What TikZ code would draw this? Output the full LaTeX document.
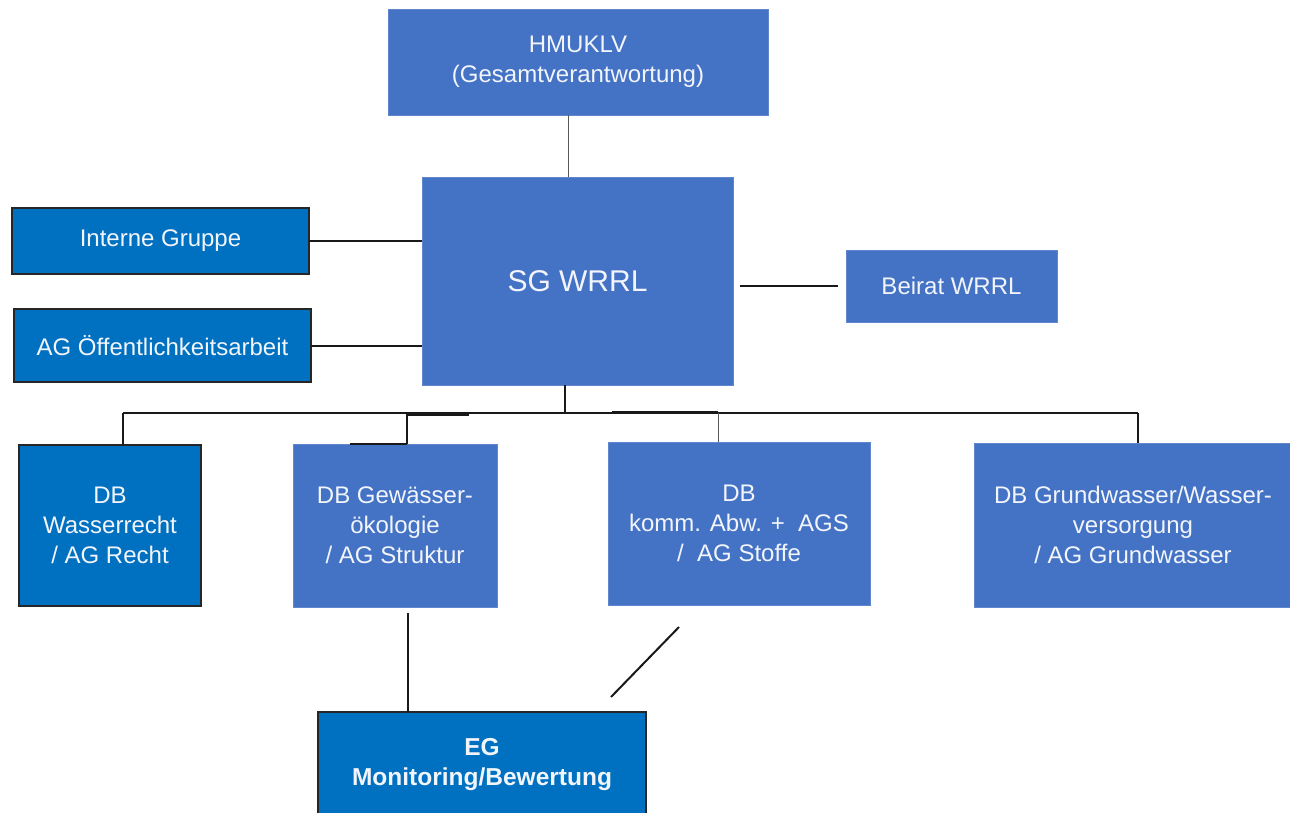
\documentclass[tikz,border=0pt]{standalone}
\usepackage{fontspec}
\setmainfont{Liberation Sans}
\definecolor{mblue}{HTML}{4472C4}
\definecolor{dblue}{HTML}{0070C0}
\definecolor{txt}{HTML}{F2F5FB}
\begin{document}
\begin{tikzpicture}[x=1pt,y=-1pt,
  boxbase/.style={rectangle,inner sep=0pt,outer sep=0pt,align=center,text=txt,
    font=\fontsize{24}{30}\selectfont},
  lightbox/.style={boxbase,fill=mblue,draw=mblue!85!white,line width=0.8pt},
  darkbox/.style={boxbase,fill=dblue,draw=black!85,line width=1.6pt},
  conn/.style={draw=black!90,line width=2pt},
  thin/.style={draw=black!65,line width=1pt}]
\useasboundingbox (0,0) rectangle (1290,812);
\fill[white] (0,0) rectangle (1290,812);
% boxes: centre and size from the reference pixel extents
\node[lightbox,minimum width=380,minimum height=106] (hm) at (578,62) {HMUKLV\\(Gesamtverantwortung)};
\node[lightbox,minimum width=311,minimum height=208,font=\fontsize{30}{36}\selectfont] (sg) at (577.5,281) {SG WRRL};
\node[darkbox,minimum width=297,minimum height=66] (ig) at (160.5,241) {Interne Gruppe};
\node[darkbox,minimum width=297,minimum height=73] (ao) at (162.5,345.5) {AG Öffentlichkeitsarbeit};
\node[lightbox,minimum width=211,minimum height=72] (be) at (951.5,286) {Beirat WRRL};
\node[darkbox,minimum width=182,minimum height=161] (d1) at (110,525.5) {DB\\Wasserrecht\\/ AG Recht};
\node[lightbox,minimum width=204,minimum height=163] (d2) at (395,525.5) {DB Gewässer-\\ökologie\\/ AG Struktur};
\node[lightbox,minimum width=262,minimum height=163] (d3) at (739,523.5) {DB\\komm. Abw. +\ \ AGS\\/\ \ AG Stoffe};
\node[lightbox,minimum width=318,minimum height=164] (d4) at (1133,525) {DB Grundwasser/Wasser-\\versorgung\\/ AG Grundwasser};
\node[darkbox,minimum width=328,minimum height=106,font=\fontsize{24.5}{30}\selectfont\bfseries] (eg) at (482,765) {EG\\Monitoring/Bewertung};
% helper coordinates
\coordinate (xh) at (568,0);
\coordinate (bus) at (565,413);
\coordinate (bA) at (123,413);
\coordinate (bB) at (407,413);
\coordinate (bC) at (718,413);
\coordinate (bD) at (1138,413);
\coordinate (xe) at (408,0);
\coordinate (dg1) at (679,627);
\coordinate (dg2) at (611,697);
% connectors
\draw[thin] (hm.south -| xh) -- (sg.north -| xh);
\draw[conn] (ig.east) -- (ig.east -| sg.west);
\draw[conn] (ao.east) -- (ao.east -| sg.west);
\draw[conn,shorten <=7pt,shorten >=8pt] (sg.east |- be.west) -- (be.west);
\draw[conn,line width=2.6pt] (sg.south -| bus) -- (bus);
\draw[conn] (bA) -- (bD);
\draw[conn,line width=2.6pt] (bB) ++(0,2) -- ++(62,0);
\draw[conn,line width=2.6pt] (bC) ++(-106,-1) -- ++(106,0);
\draw[conn] (bA) -- (bA |- d1.north);
\draw[conn] (bB) -- (bB |- d2.north);
\draw[conn,line width=2.4pt] (d2.north -| bB) -- ++(-57,0);
\draw[thin] (bC) -- (bC |- d3.north);
\draw[conn] (bD) -- (bD |- d4.north);
\draw[conn,shorten <=6pt] (d2.south -| xe) -- (eg.north -| xe);
\draw[conn] (dg1) -- (dg2);
\end{tikzpicture}
\end{document}
